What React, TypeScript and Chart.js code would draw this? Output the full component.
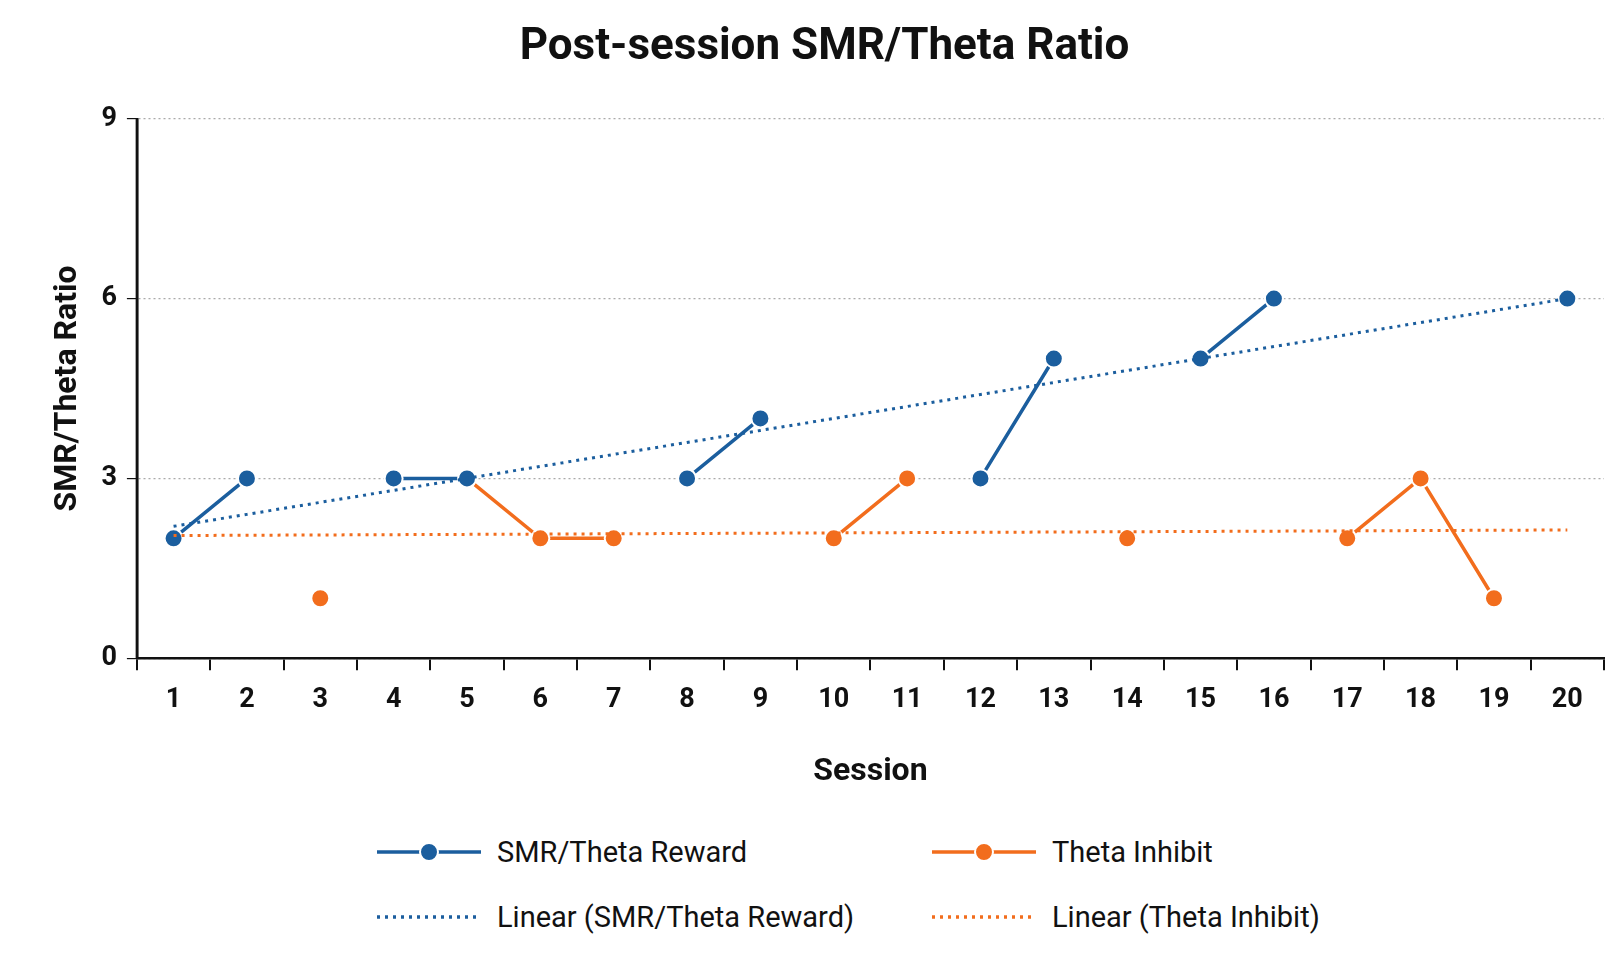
import React, { useEffect, useRef } from "react";
import { Chart, registerables } from "chart.js";
Chart.register(...registerables);

const sessions = ["1","2","3","4","5","6","7","8","9","10","11","12","13","14","15","16","17","18","19","20"];
const reward: (number | null)[] = [2,3,null,3,3,null,null,3,4,null,null,3,5,null,5,6,null,null,null,6];
const inhibit: (number | null)[] = [2,null,1,null,3,2,2,null,null,2,3,null,null,2,null,null,2,3,1,null];
const yTicks = [0, 3, 6, 9];

const BLUE = "#1b5e9e";
const ORANGE = "#f26d1d";
const FONT = "'Liberation Sans Narrow', 'Roboto', 'Liberation Sans', sans-serif";

function trend(vals: (number | null)[]): number[] {
  const pts = vals.map((v, i) => [i + 1, v] as [number, number | null]).filter(p => p[1] !== null) as [number, number][];
  const n = pts.length;
  const mx = pts.reduce((s, p) => s + p[0], 0) / n;
  const my = pts.reduce((s, p) => s + p[1], 0) / n;
  let sxy = 0, sxx = 0;
  pts.forEach(([x, y]) => { sxy += (x - mx) * (y - my); sxx += (x - mx) * (x - mx); });
  const b = sxy / sxx, a = my - b * mx;
  return vals.map((_, i) => a + b * (i + 1));
}

export default function App() {
  const ref = useRef<HTMLCanvasElement>(null);
  useEffect(() => {
    const pointStyle = (c: string) => ({
      borderColor: c, backgroundColor: c, borderWidth: 3.5, pointRadius: 9,
      pointBackgroundColor: c, pointBorderColor: "#fff", pointBorderWidth: 2, spanGaps: false,
    });
    const chart = new Chart(ref.current!, {
      type: "line",
      data: {
        labels: sessions,
        datasets: [
          { label: "Linear (SMR/Theta Reward)", data: trend(reward), borderColor: BLUE, borderWidth: 3, borderDash: [3, 5], pointRadius: 0 },
          { label: "Linear (Theta Inhibit)", data: trend(inhibit), borderColor: ORANGE, borderWidth: 3, borderDash: [3, 5], pointRadius: 0 },
          { label: "SMR/Theta Reward", data: reward, ...pointStyle(BLUE) },
          { label: "Theta Inhibit", data: inhibit, ...pointStyle(ORANGE) },
        ],
      },
      options: {
        animation: false, responsive: false, maintainAspectRatio: false,
        layout: { padding: { left: 45, right: 15, top: 10, bottom: 10 } },
        plugins: {
          legend: { display: false },
          tooltip: { enabled: false },
          title: { display: true, text: "Post-session SMR/Theta Ratio", color: "#111",
            font: { family: FONT, size: 44, weight: "bold" }, padding: { top: 12, bottom: 44 } },
        },
        scales: {
          x: {
            offset: true,
            grid: { offset: true, drawOnChartArea: false, color: "#111", lineWidth: 2, tickLength: 12 },
            border: { color: "#111", width: 2.5 },
            ticks: { color: "#111", font: { family: FONT, size: 27, weight: "bold" }, padding: 14 },
            title: { display: true, text: "Session", color: "#111", font: { family: FONT, size: 32, weight: "bold" }, padding: { top: 22 } },
          },
          y: {
            min: 0, max: 9,
            afterBuildTicks: (a: any) => { a.ticks = yTicks.map(v => ({ value: v })); },
            grid: { color: "#aaa", lineWidth: 1.2, tickLength: 10, tickColor: "#111" } as any,
            border: { color: "#111", width: 2.5, dash: [2, 3] } as any,
            ticks: { color: "#111", font: { family: FONT, size: 27, weight: "bold" }, padding: 10 },
            title: { display: true, text: "SMR/Theta Ratio", color: "#111", font: { family: FONT, size: 32, weight: "bold" } },
          },
        },
      },
      plugins: [{
        id: "solidYAxis",
        afterDraw(c: any) {
          const ctx = c.ctx, y = c.scales.y, x = c.scales.x;
          ctx.save(); ctx.strokeStyle = "#111"; ctx.lineWidth = 2.5; ctx.setLineDash([]);
          ctx.beginPath(); ctx.moveTo(x.left, y.top); ctx.lineTo(x.left, y.bottom); ctx.stroke(); ctx.restore();
        },
      }],
    } as any);
    return () => chart.destroy();
  }, []);

  const item = (color: string, dashed: boolean, text: string, left: number, top: number) => (
    <div style={{ position: "absolute", left, top, display: "flex", alignItems: "center" }}>
      <svg width="110" height="24" style={{ marginRight: 12 }}>
        <line x1="2" y1="12" x2="106" y2="12" stroke={color} strokeWidth="3.5" strokeDasharray={dashed ? "3 5" : undefined} />
        {!dashed && <circle cx="54" cy="12" r="9" fill={color} stroke="#fff" strokeWidth="2" />}
      </svg>
      <span style={{ fontFamily: FONT, fontSize: 29, color: "#111" }}>{text}</span>
    </div>
  );

  return (
    <div style={{ position: "absolute", left: 0, top: 0, width: 1619, height: 971, background: "#fff" }}>
      <canvas ref={ref} width={1619} height={805} style={{ display: "block" }} />
      {item(BLUE, false, "SMR/Theta Reward", 375, 835)}
      {item(ORANGE, false, "Theta Inhibit", 930, 835)}
      {item(BLUE, true, "Linear (SMR/Theta Reward)", 375, 900)}
      {item(ORANGE, true, "Linear (Theta Inhibit)", 930, 900)}
    </div>
  );
}
